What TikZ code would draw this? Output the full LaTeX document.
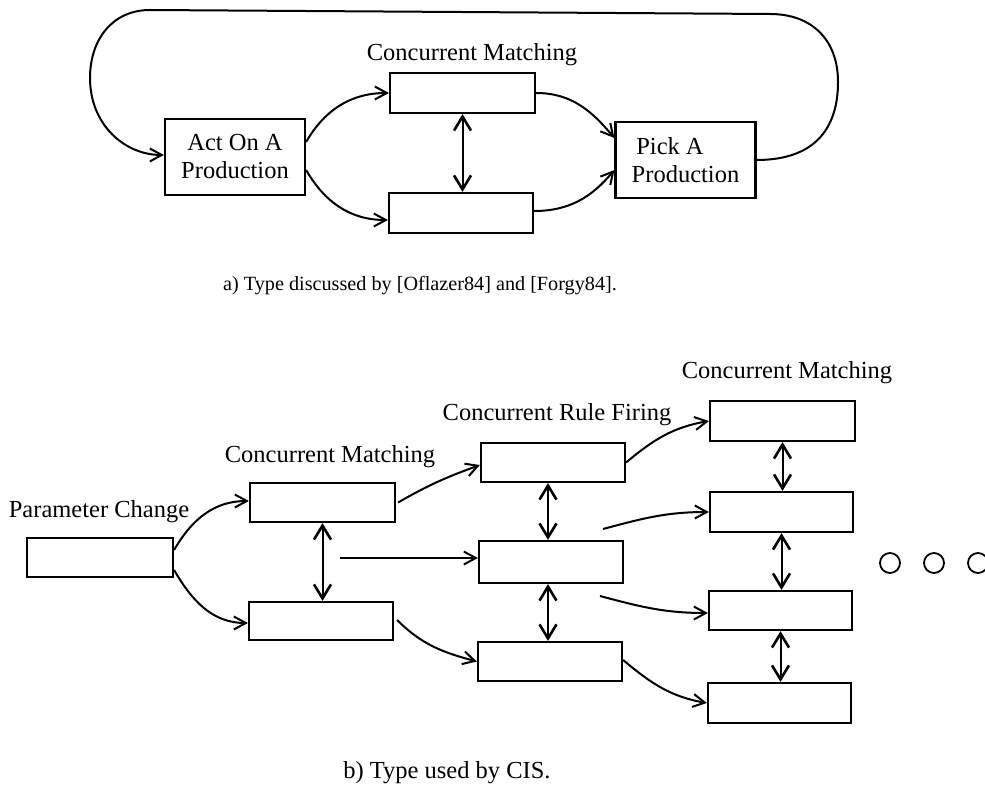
\documentclass[tikz,border=0pt]{standalone}
\usepackage{fontspec}
\setmainfont{Liberation Serif}
\usetikzlibrary{arrows.meta}
\begin{document}
\begin{tikzpicture}[x=1pt,y=-1pt,
  line width=2pt,
  box/.style={draw,line width=2.2pt,minimum width=144pt,minimum height=40pt,inner sep=0pt,anchor=center},
  bigbox/.style={draw,line width=2.2pt,minimum width=140pt,minimum height=76pt,inner sep=0pt,anchor=center,align=center,font=\fontsize{24.5}{28}\selectfont},
  lbl/.style={anchor=base,inner sep=0pt,font=\fontsize{24.5}{28}\selectfont},
  flow/.style={-{Straight Barb[length=12pt,width=13pt,line width=2pt]}},
  both/.style={{Straight Barb[length=14pt,width=17pt,line width=2.6pt]}-{Straight Barb[length=14pt,width=17pt,line width=2.6pt]}},
  dot/.style={draw,circle,line width=1.8pt,minimum size=20pt,inner sep=0pt}]
\useasboundingbox (0,0) rectangle (985,791);
% ---------- part a ----------
\node[bigbox] (act) at (235,157) {Act On A\\Production};
\node[bigbox] (pick) at (685.5,160) {Pick A\rule{31pt}{0pt}\\Production};
\node[box,minimum width=145pt] (tcm) at (462.5,93) {};
\node[box] (bcm) at (461,213) {};
\node[lbl] (la) at (472,61) {Concurrent Matching};
\draw[flow] ([yshift=15pt]act.east) to[out=60,in=180] (tcm.west);
\draw[flow] ([yshift=-13pt]act.east) to[out=-60,in=180] ([yshift=-7pt]bcm.west);
\draw[flow] (tcm.east) to[out=0,in=130] ([yshift=22pt]pick.west);
\draw[flow] ([yshift=2pt]bcm.east) to[out=0,in=-130] ([yshift=-10pt]pick.west);
\draw[both] (tcm.south) -- (tcm.south |- bcm.north);
\draw[flow] (pick.east) .. controls (818,160) and (838,125) .. (838,82)
  .. controls (838,40) and (812,14) .. (770,14) -- (150,10)
  .. controls (112,10) and (90,40) .. (90,78)
  .. controls (90,125) and (125,155) .. ([yshift=2pt]act.west);
\node[lbl,font=\fontsize{20.2}{24}\selectfont] (capa) at (420,291) {a) Type discussed by [Oflazer84] and [Forgy84].};
% ---------- part b ----------
\node[box,minimum width=146pt,minimum height=39pt] (pc) at (100,557.5) {};
\node[lbl] (lpc) at (99,517) {Parameter Change};
\node[box,minimum width=145pt,minimum height=39pt] (m1) at (322.5,502.5) {};
\node[box,minimum height=38pt] (m2) at (321,621) {};
\node[lbl] (lm) at (330,462) {Concurrent Matching};
\node[box,minimum height=39pt] (r1) at (553,462.5) {};
\node[box,minimum height=42pt] (r2) at (551,562) {};
\node[box,minimum height=39pt] (r3) at (550,661.5) {};
\node[lbl] (lr) at (557,420) {Concurrent Rule Firing};
\node[box,minimum width=145pt] (c1) at (782.5,421) {};
\node[box,minimum width=143pt] (c2) at (781.5,512) {};
\node[box,minimum width=143pt,minimum height=39pt] (c3) at (780.5,610.5) {};
\node[box,minimum width=143pt] (c4) at (779.5,703) {};
\node[lbl] (lc) at (787,378) {Concurrent Matching};
\coordinate (s1) at (340,558);
\coordinate (s2) at (603,529);
\coordinate (s3) at (600,596);
\draw[flow] ([yshift=7.5pt]pc.east) to[out=60,in=180] ([yshift=1.5pt]m1.west);
\draw[flow] ([yshift=-12.5pt]pc.east) to[out=-60,in=180] ([yshift=-2pt]m2.west);
\draw[flow] ([xshift=2pt]m1.east) to[out=30,in=200] ([yshift=-2.5pt]r1.west);
\draw[flow] (s1) -- (s1 -| r2.west);
\draw[flow] ([xshift=3pt,yshift=1pt]m2.east) to[out=-45,in=165] (r3.west);
\draw[flow] (r1.east) to[out=40,in=190] (c1.west);
\draw[flow] (s2) to[out=15,in=180] (c2.west);
\draw[flow] (s3) to[out=-15,in=180] ([yshift=-2.5pt]c3.west);
\draw[flow] ([yshift=1.5pt]r3.east) to[out=-40,in=170] (c4.west);
\draw[both] (m1.south) -- (m1.south |- m2.north);
\draw[both] ([xshift=-5pt]r1.south) -- ([xshift=-5pt]r1.south |- r2.north);
\draw[both] ([xshift=-3pt]r2.south) -- ([xshift=-3pt]r2.south |- r3.north);
\draw[both] (c1.south) -- (c1.south |- c2.north);
\draw[both] (c2.south) -- (c2.south |- c3.north);
\draw[both] (c3.south) -- (c3.south |- c4.north);
\node[dot] (d1) at (890,563) {};
\node[dot] (d2) at (934,563) {};
\node[dot] (d3) at (978,563) {};
\node[lbl] (capb) at (447,778) {b) Type used by CIS.};
\end{tikzpicture}
\end{document}
